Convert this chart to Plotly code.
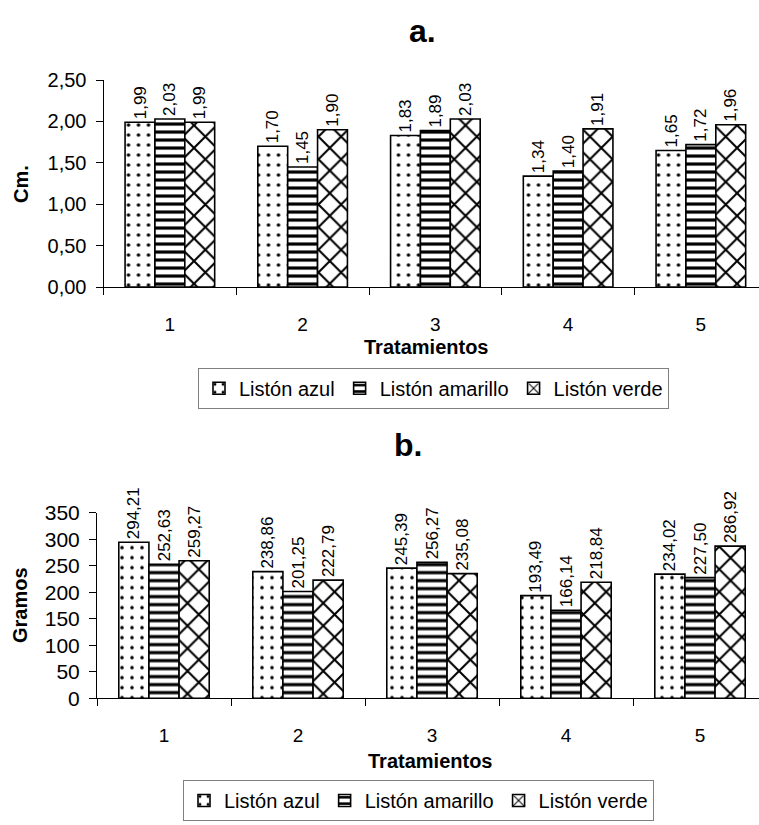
import plotly.graph_objects as go

# Treatment categories
tratamientos = [1, 2, 3, 4, 5]
series_names = ["Listón azul", "Listón amarillo", "Listón verde"]

# a. Length (cm) per ribbon colour
cm_azul = [1.99, 1.70, 1.83, 1.34, 1.65]
cm_amarillo = [2.03, 1.45, 1.89, 1.40, 1.72]
cm_verde = [1.99, 1.90, 2.03, 1.91, 1.96]

# b. Weight (g) per ribbon colour
g_azul = [294.21, 238.86, 245.39, 193.49, 234.02]
g_amarillo = [252.63, 201.25, 256.27, 166.14, 227.50]
g_verde = [259.27, 222.79, 235.08, 218.84, 286.92]

cm_ticks = [0, 0.5, 1.0, 1.5, 2.0, 2.5]
g_ticks = [0, 50, 100, 150, 200, 250, 300, 350]

FONT = "Liberation Sans, Arial, sans-serif"
W, H = 759, 825

# black-on-white fills: dots, horizontal stripes, diagonal cross-hatch
patterns = [
    dict(shape=".", size=10, solidity=0.1, fgcolor="black", bgcolor="white", fgopacity=1),
    dict(shape="-", size=8, solidity=0.4, fgcolor="black", bgcolor="white", fgopacity=1),
    dict(shape="x", size=16, solidity=0.24, fgcolor="black", bgcolor="white", fgopacity=1),
]


def fmt(v):
    return f"{v:.2f}".replace(".", ",")


fig = go.Figure()


def add_series(values_list, xa, ya, legend_id):
    for name, vals, pat in zip(series_names, values_list, patterns):
        fig.add_trace(go.Bar(
            x=tratamientos, y=vals, name=name,
            text=[fmt(v) for v in vals], textposition="outside", textangle=-90,
            textfont=dict(size=17, color="black", family=FONT),
            constraintext="none", cliponaxis=False,
            marker=dict(color="white", pattern=pat, line=dict(color="black", width=1.6)),
            xaxis=xa, yaxis=ya, legend=legend_id,
        ))


add_series([cm_azul, cm_amarillo, cm_verde], "x", "y", "legend")
add_series([g_azul, g_amarillo, g_verde], "x2", "y2", "legend2")


def xaxis_cfg(left_px, step_px, anchor):
    right = 0.5 + (W - left_px) / step_px
    return dict(
        domain=[left_px / W, 1.0], range=[0.5, right], anchor=anchor,
        tickmode="array", tickvals=tratamientos, ticktext=[str(t) for t in tratamientos],
        ticks="", showgrid=False, zeroline=False,
        showline=True, linecolor="black", linewidth=1,
        tickfont=dict(size=19, color="black", family=FONT),
        ticklabelstandoff=20,
        minor=dict(tickvals=[0.5, 1.5, 2.5, 3.5, 4.5], ticks="outside",
                   ticklen=7, tickcolor="black", tickwidth=1, showgrid=False),
    )


def yaxis_cfg(top_px, bot_px, rng, tickvals, tickformat, anchor, fsize):
    return dict(
        domain=[1 - bot_px / H, 1 - top_px / H], range=rng, anchor=anchor,
        tickmode="array", tickvals=tickvals, tickformat=tickformat,
        ticks="outside", ticklen=7, tickcolor="black", tickwidth=1,
        showgrid=False, zeroline=False,
        showline=True, linecolor="black", linewidth=1,
        tickfont=dict(size=fsize, color="black", family=FONT),
        ticklabelstandoff=5,
    )


legend_common = dict(
    orientation="h", xanchor="left", yanchor="top",
    bordercolor="#808080", borderwidth=1, bgcolor="white",
    font=dict(size=20, color="black", family=FONT),
    itemwidth=30, tracegroupgap=0,
)

fig.update_layout(
    width=W, height=H,
    margin=dict(l=0, r=0, t=0, b=0),
    paper_bgcolor="white", plot_bgcolor="white",
    separators=",.",
    font=dict(family=FONT, color="black"),
    barmode="group", bargap=0.325, bargroupgap=0,
    xaxis=xaxis_cfg(103.5, 132.75, "y"),
    yaxis=yaxis_cfg(70, 283, [0, 2.5], cm_ticks, ".2f", "x", 20),
    xaxis2=xaxis_cfg(97, 134, "y2"),
    yaxis2=yaxis_cfg(515, 706, [0, 350], g_ticks, "d", "x2", 21),
    legend=dict(x=198 / W, y=1 - 366 / H, **legend_common),
    legend2=dict(x=183 / W, y=1 - 790 / H, **legend_common),
    showlegend=True,
)

annotations = [
    dict(text="<b>a.</b>", x=422 / W, y=1 - 20 / H, font=dict(size=32)),
    dict(text="<b>b.</b>", x=408 / W, y=1 - 445 / H, font=dict(size=32)),
    dict(text="<b>Cm.</b>", x=21 / W, y=1 - 177 / H, font=dict(size=20), textangle=-90),
    dict(text="<b>Gramos</b>", x=20 / W, y=1 - 610 / H, font=dict(size=20), textangle=-90),
    dict(text="<b>Tratamientos</b>", x=426 / W, y=1 - 345 / H, font=dict(size=20)),
    dict(text="<b>Tratamientos</b>", x=430 / W, y=1 - 770 / H, font=dict(size=20)),
]
for a in annotations:
    a.update(xref="paper", yref="paper", showarrow=False, xanchor="center", yanchor="middle")
    a["font"].update(color="black", family=FONT)
fig.update_layout(annotations=annotations)

fig.write_html("out.html")
